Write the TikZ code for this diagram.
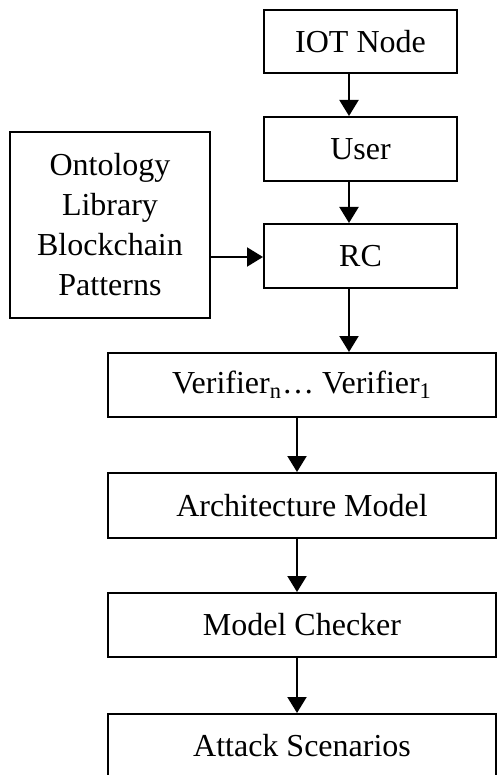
\documentclass[tikz,border=0pt]{standalone}
\usepackage{fontspec}
\setmainfont{Liberation Serif}
\usetikzlibrary{arrows.meta}
\begin{document}
\begin{tikzpicture}[x=0.5pt,y=-0.5pt,
  box/.style={draw,line width=1pt,rectangle,inner sep=0pt,align=center,
    font=\fontsize{16}{20}\selectfont},
  arr/.style={line width=1pt,-{Triangle[length=8pt,width=9.5pt]}}]
\clip (0,0) rectangle (497,775);
\useasboundingbox (0,0) rectangle (497,775);
\fill[white] (0,0) rectangle (497,775);

% upper column
\node[box,minimum width=96.5pt,minimum height=31.5pt] (iot) at (360.5,41.5) {IOT Node};
\node[box,minimum width=96.5pt,minimum height=32pt] (user) at (360.5,149) {User};
\node[box,minimum width=96.5pt,minimum height=32pt] (rc) at (360.5,256) {RC};

% pattern library
\node[box,minimum width=100pt,minimum height=93pt] (lib) at (110,225)
  {Ontology\\Library\\Blockchain\\Patterns};

% lower column
\node[box,minimum width=194pt,minimum height=32pt] (ver) at (302,385)
  {Verifier\textsubscript{n}\ldots{} Verifier\textsubscript{1}};
\node[box,minimum width=194pt,minimum height=32.5pt] (arch) at (302,505.5) {Architecture Model};
\node[box,minimum width=194pt,minimum height=32pt] (mc) at (302,625) {Model Checker};
\node[box,minimum width=194pt,minimum height=32pt] (atk) at (302,746) {Attack Scenarios};

% arrow columns
\coordinate (colA) at (349,0);
\coordinate (colB) at (297,0);
\coordinate (rowL) at (0,257);

\draw[arr] (iot.south -| colA) -- (user.north -| colA);
\draw[arr] (user.south -| colA) -- (rc.north -| colA);
\draw[arr] (lib.east |- rowL) -- (rc.west |- rowL);
\draw[arr] (rc.south -| colA) -- (ver.north -| colA);
\draw[arr] (ver.south -| colB) -- (arch.north -| colB);
\draw[arr] (arch.south -| colB) -- (mc.north -| colB);
\draw[arr] (mc.south -| colB) -- (atk.north -| colB);
\end{tikzpicture}
\end{document}
